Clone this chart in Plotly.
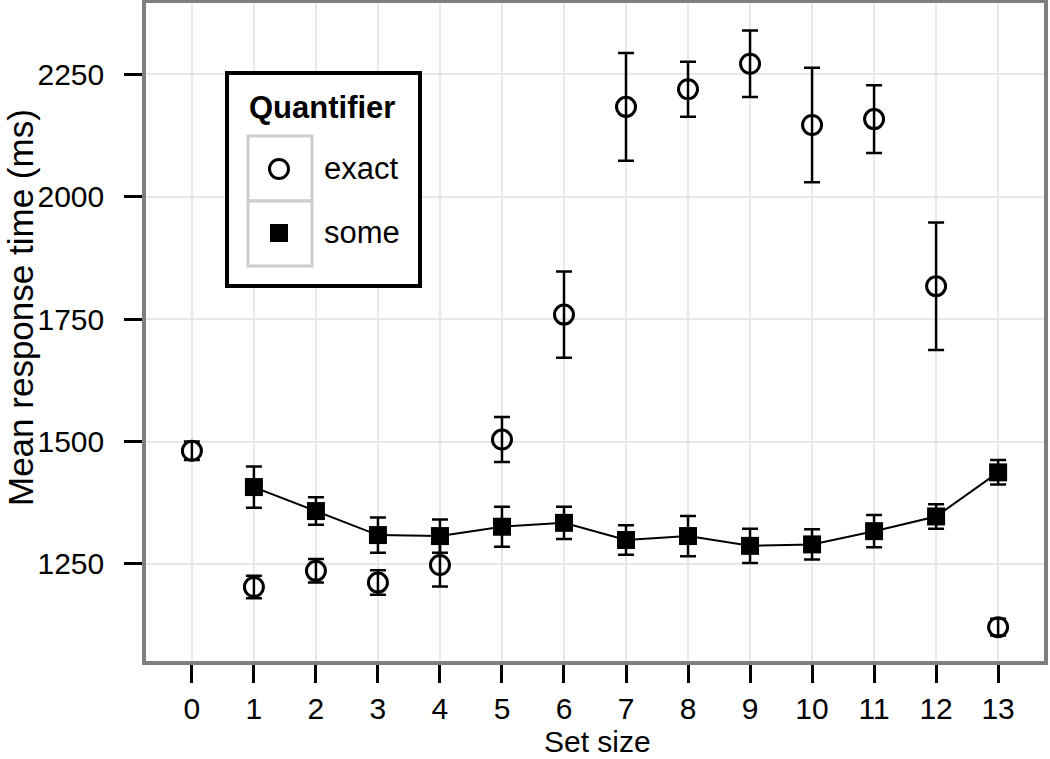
import plotly.graph_objects as go

# ---------------- data ----------------
set_size_exact = [0, 1, 2, 3, 4, 5, 6, 7, 8, 9, 10, 11, 12, 13]
rt_exact = [1481, 1203, 1236, 1212, 1248, 1504, 1759, 2183, 2219, 2271, 2146, 2158, 1817, 1121]
se_exact = [19, 23, 24, 25, 44, 46, 88, 110, 56, 68, 117, 69, 130, 17]

set_size_some = [1, 2, 3, 4, 5, 6, 7, 8, 9, 10, 11, 12, 13]
rt_some = [1407, 1358, 1309, 1307, 1326, 1334, 1299, 1307, 1287, 1290, 1317, 1347, 1437]
se_some = [42, 28, 36, 34, 41, 33, 30, 41, 35, 31, 33, 25, 25]

x_ticks = list(range(0, 14))
y_ticks = [1250, 1500, 1750, 2000, 2250]

legend_title = "Quantifier"
legend_labels = ["exact", "some"]

# ---------------- layout geometry (pixels) ----------------
W, H = 1050, 759
L, R, T, B = 146, 1044, 3, 661
FONT = "Liberation Sans, Arial, Helvetica, sans-serif"


def px(xp):
    return (xp - L) / (R - L)


def py(yp):
    return (B - yp) / (B - T)


fig = go.Figure()

fig.add_trace(go.Scatter(
    x=set_size_some, y=rt_some, mode="lines+markers", name=legend_labels[1],
    line=dict(color="black", width=2),
    marker=dict(symbol="square", size=18, color="black", line=dict(width=0)),
    error_y=dict(type="data", array=se_some, visible=True, color="black",
                 thickness=2.5, width=8),
    showlegend=False,
))

fig.add_trace(go.Scatter(
    x=set_size_exact, y=rt_exact, mode="markers", name=legend_labels[0],
    marker=dict(symbol="circle-open", size=19, color="black",
                line=dict(width=3, color="black")),
    error_y=dict(type="data", array=se_exact, visible=True, color="black",
                 thickness=2.5, width=8),
    showlegend=False,
))

axis_common = dict(
    showline=True, mirror=True, linecolor="#7f7f7f", linewidth=3.5,
    showgrid=True, gridcolor="#e8e8e8", gridwidth=1.5,
    ticks="outside", ticklen=18, tickwidth=3, tickcolor="black",
    tickfont=dict(family=FONT, size=30, color="black"),
    zeroline=False,
)

fig.update_xaxes(
    range=[-0.74, 13.74], tickmode="array", tickvals=x_ticks,
    ticktext=[str(v) for v in x_ticks], ticklabelstandoff=0, **axis_common,
)
fig.update_yaxes(
    range=[1052, 2395], tickmode="array", tickvals=y_ticks,
    ticktext=[str(v) for v in y_ticks], ticklabelstandoff=14, **axis_common,
)

shapes = []
annotations = []

# legend box
shapes.append(dict(type="rect", xref="paper", yref="paper",
                   x0=px(227), x1=px(420), y0=py(286), y1=py(73),
                   line=dict(color="black", width=4), fillcolor="white", layer="above"))
# key boxes
shapes.append(dict(type="rect", xref="paper", yref="paper",
                   x0=px(248), x1=px(312), y0=py(201), y1=py(136),
                   line=dict(color="#cccccc", width=3), fillcolor="white", layer="above"))
shapes.append(dict(type="rect", xref="paper", yref="paper",
                   x0=px(248), x1=px(312), y0=py(266), y1=py(201),
                   line=dict(color="#cccccc", width=3), fillcolor="white", layer="above"))
# key symbols
shapes.append(dict(type="circle", xref="paper", yref="paper",
                   x0=px(279 - 9.5), x1=px(279 + 9.5), y0=py(169 + 9.5), y1=py(169 - 9.5),
                   line=dict(color="black", width=3), fillcolor="rgba(0,0,0,0)", layer="above"))
shapes.append(dict(type="rect", xref="paper", yref="paper",
                   x0=px(279 - 9), x1=px(279 + 9), y0=py(233 + 9), y1=py(233 - 9),
                   line=dict(color="black", width=0), fillcolor="black", layer="above"))

annotations.append(dict(text="<b>" + legend_title + "</b>", xref="paper", yref="paper",
                        x=px(247), y=py(107), xanchor="left", yanchor="middle",
                        showarrow=False, font=dict(family=FONT, size=31, color="black")))
annotations.append(dict(text=legend_labels[0], xref="paper", yref="paper",
                        x=px(322), y=py(168), xanchor="left", yanchor="middle",
                        showarrow=False, font=dict(family=FONT, size=31, color="black")))
annotations.append(dict(text=legend_labels[1], xref="paper", yref="paper",
                        x=px(322), y=py(232), xanchor="left", yanchor="middle",
                        showarrow=False, font=dict(family=FONT, size=31, color="black")))

# axis titles
annotations.append(dict(text="Set size", xref="paper", yref="paper",
                        x=px(597), y=py(759), xanchor="center", yanchor="bottom",
                        borderpad=0, showarrow=False,
                        font=dict(family=FONT, size=30, color="black")))
annotations.append(dict(text="Mean response time (ms)", xref="paper", yref="paper",
                        x=px(20), y=py(308), xanchor="center", yanchor="middle",
                        textangle=-90, showarrow=False,
                        font=dict(family=FONT, size=35, color="black")))

fig.update_layout(
    width=W, height=H,
    margin=dict(l=L, r=W - R, t=T, b=H - B, autoexpand=False),
    paper_bgcolor="white", plot_bgcolor="white",
    shapes=shapes, annotations=annotations,
    showlegend=False,
    font=dict(family=FONT),
)

fig.write_html(
    "out.html",
    config={"displayModeBar": False},
    post_script="document.body.style.margin='0px';document.body.style.overflow='hidden';",
)
